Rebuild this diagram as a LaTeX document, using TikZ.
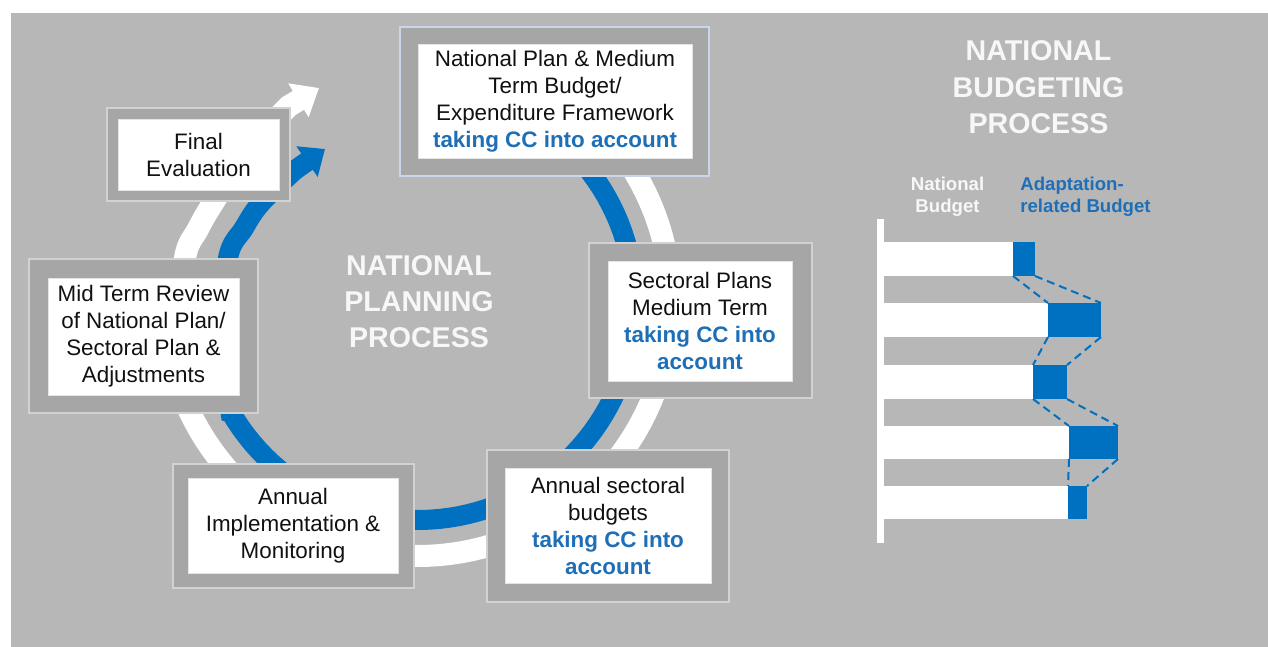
\documentclass[tikz,border=0pt]{standalone}
\usepackage{fontspec}
\setmainfont{Liberation Sans}
\usetikzlibrary{arrows.meta,fit}
\definecolor{bg}{HTML}{B7B7B7}
\definecolor{boxgray}{HTML}{A6A6A6}
\definecolor{boxedge}{HTML}{D2D2D2}
\definecolor{seledge}{HTML}{C8D6E8}
\definecolor{inedge}{HTML}{E4E4E4}
\definecolor{bandblue}{HTML}{0070C0}
\definecolor{txtblue}{HTML}{1F6FB6}
\definecolor{txtblack}{HTML}{111111}
\definecolor{titlewhite}{HTML}{F7F7F7}
\newcommand{\ccblue}[1]{{\color{txtblue}\bfseries #1}}
\begin{document}
\begin{tikzpicture}[x=0.5pt,y=-0.5pt,
  outerbox/.style={draw=boxedge,line width=1pt,fill=boxgray,inner sep=0pt},
  selbox/.style={outerbox,draw=seledge},
  innerbox/.style={draw=inedge,line width=0.5pt,fill=white,inner sep=0pt},
  boxtext/.style={align=center,inner sep=0pt,text=txtblack,font=\fontsize{11.2}{13.5}\selectfont},
  titletext/.style={align=center,inner sep=0pt,text=titlewhite,font=\fontsize{14.3}{18.2}\selectfont\bfseries},
  legendtext/.style={inner sep=0pt,font=\fontsize{9.3}{11}\selectfont\bfseries},
  blueband/.style={draw=bandblue,line width=10pt,-{Triangle[width=18pt,length=11pt]}},
  whiteband/.style={draw=white,line width=11pt,-{Triangle[width=19pt,length=12pt]}},
  whitebar/.style={fill=white},
  bluebar/.style={fill=bandblue,inner sep=0pt,outer sep=0pt,anchor=north west,minimum height=17pt},
  guide/.style={draw=bandblue,line width=1pt,dash pattern=on 4pt off 2.5pt}]
\useasboundingbox (0,0) rectangle (1268,647);
\fill[bg] (11,13) rectangle (1268,647);

% cycle bands
\draw[whiteband] plot[domain=0:230,samples=90,variable=\t] ({418+253*cos(75-\t)},{303-253*sin(75-\t)})
  -- plot[smooth,tension=0.6] coordinates {(188.7,409.9) (181,330) (185,258) (198,229) (213,203) (248,150) (289,106)}
  -- (319,88);
\draw[blueband] plot[domain=0:225,samples=90,variable=\t] ({418+216.6*cos(75-\t)},{303.4-216.6*sin(75-\t)})
  -- plot[smooth,tension=0.6] coordinates {(230.4,411.7) (222,335) (228,258) (244,228) (261,203) (295,170)}
  -- (325,149);

% boxes
\node[outerbox,fit={(107,108) (290,201)}] (fe-o) {};
\node[innerbox,fit={(118,120) (279,190)}] (fe-i) {};
\node[boxtext] (fe) at (fe-i.center) {Final\\Evaluation};

\node[selbox,fit={(400,27) (709,176)}] (np-o) {};
\node[innerbox,fit={(418,45) (692,158)}] (np-i) {};
\node[boxtext] (np) at (np-i.center) {National Plan \& Medium\\Term Budget/\\Expenditure Framework\\\ccblue{taking CC into account}};

\node[outerbox,fit={(589,243) (812,398)}] (sp-o) {};
\node[innerbox,fit={(608,261) (792,381)}] (sp-i) {};
\node[boxtext] (sp) at (sp-i.center) {Sectoral Plans\\Medium Term\\\ccblue{taking CC into}\\\ccblue{account}};

\node[outerbox,fit={(29,259) (258,413)}] (mt-o) {};
\node[innerbox,fit={(48,278) (239,395)}] (mt-i) {};
\node[boxtext] (mt) at (mt-i.center) {Mid Term Review\\of National Plan/\\Sectoral Plan \&\\Adjustments};

\node[outerbox,fit={(173,464) (414,588)}] (ai-o) {};
\node[innerbox,fit={(188,478) (398,573)}] (ai-i) {};
\node[boxtext] (ai) at (ai-i.center) {Annual\\Implementation \&\\Monitoring};

\node[outerbox,fit={(487,450) (729,602)}] (as-o) {};
\node[innerbox,fit={(505,468) (711,583)}] (as-i) {};
\node[boxtext] (as) at (as-i.center) {Annual sectoral\\budgets\\\ccblue{taking CC into}\\\ccblue{account}};

% titles
\node[titletext] (npp) at (419,301.7) {NATIONAL\\PLANNING\\PROCESS};
\node[titletext] (nbp) at (1038.5,87.5) {NATIONAL\\BUDGETING\\PROCESS};

% legend
\node[legendtext,align=center,text=titlewhite] (lnb) at (947.5,196.5) {National\\Budget};
\node[legendtext,align=left,text=txtblue,anchor=west] (lab) at (1020,196.5) {Adaptation-\\related Budget};

% bar chart
\fill[white] (877,219) rectangle (884,543);
\fill[whitebar] (884,242) rectangle (1013,276);
\fill[whitebar] (884,303) rectangle (1048,337);
\fill[whitebar] (884,365) rectangle (1033,399);
\fill[whitebar] (884,426) rectangle (1069,459);
\fill[whitebar] (884,486) rectangle (1068,519);
\node[bluebar,minimum width=11pt] (b1) at (1013,242) {};
\node[bluebar,minimum width=26.5pt] (b2) at (1048,303) {};
\node[bluebar,minimum width=17pt] (b3) at (1033,365) {};
\node[bluebar,minimum width=24.5pt,minimum height=16.5pt] (b4) at (1069,426) {};
\node[bluebar,minimum width=9.5pt,minimum height=16.5pt] (b5) at (1068,486) {};
\draw[guide] (b1.south west) -- (b2.north west);
\draw[guide] (b1.south east) -- (b2.north east);
\draw[guide] (b2.south west) -- (b3.north west);
\draw[guide] (b2.south east) -- (b3.north east);
\draw[guide] (b3.south west) -- (b4.north west);
\draw[guide] (b3.south east) -- (b4.north east);
\draw[guide] (b4.south west) -- (b5.north west);
\draw[guide] (b4.south east) -- (b5.north east);
\end{tikzpicture}
\end{document}
